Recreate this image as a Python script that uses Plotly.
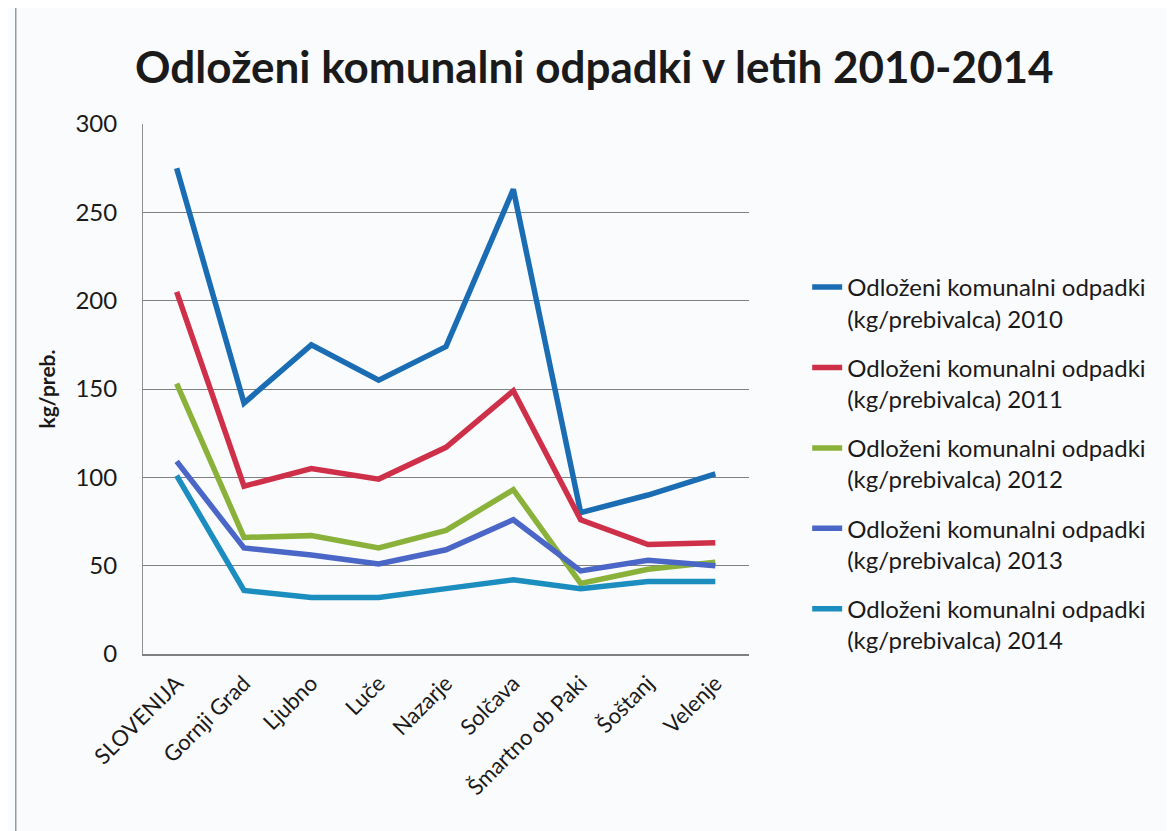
import plotly.graph_objects as go

categories = ["SLOVENIJA", "Gornji Grad", "Ljubno", "Luče", "Nazarje", "Solčava",
              "Šmartno ob Paki", "Šoštanj", "Velenje"]
y2010 = [275, 142, 175, 155, 174, 263, 80, 90, 102]
y2011 = [205, 95, 105, 99, 117, 149, 76, 62, 63]
y2012 = [153, 66, 67, 60, 70, 93, 40, 48, 52]
y2013 = [109, 60, 56, 51, 59, 76, 47, 53, 50]
y2014 = [101, 36, 32, 32, 37, 42, 37, 41, 41]
years = ["2010", "2011", "2012", "2013", "2014"]
series = [y2010, y2011, y2012, y2013, y2014]
colors = ["#1A6DB3", "#CF3049", "#8AB23A", "#4A66C6", "#1B8DBF"]
y_ticks = [0, 50, 100, 150, 200, 250, 300]

FONT = "Lato"

fig = go.Figure()
for yr, vals, col in zip(years, series, colors):
    fig.add_trace(go.Scatter(
        x=categories, y=vals, mode="lines",
        name=f"Odloženi komunalni odpadki<br>(kg/prebivalca) {yr}",
        legendgroup=yr,
        line=dict(color=col, width=5.5),
    ))

fig.update_layout(
    width=1166, height=823,
    paper_bgcolor="#fafbfc", plot_bgcolor="#fafbfc",
    margin=dict(l=135, r=425, t=116, b=177),
    font=dict(family=FONT, color="#1a1a1a"),
    title=dict(text="<b>Odloženi komunalni odpadki v letih 2010-2014</b>",
               x=0.109, xanchor="left", y=0.927, yanchor="middle",
               font=dict(size=44, family=FONT, color="#1a1a1a")),
    showlegend=True,
    legend=dict(x=1.096, xanchor="left", y=0.734, yanchor="top",
                font=dict(size=24, family=FONT, color="#1a1a1a"),
                valign="top", tracegroupgap=15, bgcolor="rgba(0,0,0,0)"),
    xaxis=dict(showgrid=False, tickangle=-45, tickfont=dict(size=22, family=FONT),
               range=[-0.5, 8.5], ticklabelstandoff=6,
               showline=True, linecolor="#808080", linewidth=1.5, ticks=""),
    yaxis=dict(range=[0, 300], tickvals=y_ticks, showgrid=True, gridcolor="#808080",
               gridwidth=1.2, zeroline=False, showline=True, linecolor="#909090",
               tickfont=dict(size=24, family=FONT), ticks="", ticklabelstandoff=20,
               title=dict(text="<b>kg/preb.</b>", font=dict(size=21, family=FONT), standoff=14)),
)
fig.add_shape(type="line", xref="paper", yref="paper", x0=-0.21, x1=-0.21, y0=-0.34, y1=1.24,
              line=dict(color="#9a9a9a", width=1.5))

fig.write_html("out.html")
